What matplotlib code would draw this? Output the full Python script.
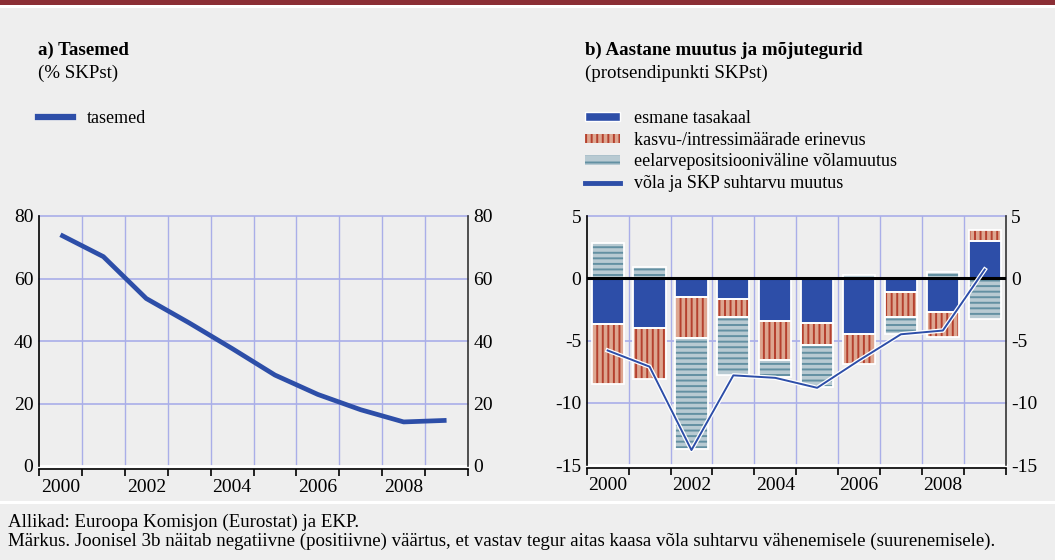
import numpy as np
import matplotlib
matplotlib.use("Agg")
import matplotlib.pyplot as plt
from matplotlib.patches import Patch, Rectangle
from matplotlib.lines import Line2D
import matplotlib.patheffects as pe

# ---------------- data ----------------
years = [2000, 2001, 2002, 2003, 2004, 2005, 2006, 2007, 2008, 2009]
year_labels = ["2000", "2002", "2004", "2006", "2008"]
levels = [74.0, 67.0, 53.6, 45.8, 37.6, 29.1, 22.9, 18.0, 14.1, 14.6]
primary_balance = [-3.7, -4.0, -1.5, -1.7, -3.4, -3.6, -4.5, -1.1, -2.7, 3.0]
growth_interest = [-4.8, -4.1, -3.3, -1.4, -3.2, -1.8, -2.4, -2.0, -2.0, 0.9]
deficit_debt = [2.8, 0.9, -8.9, -4.7, -1.3, -3.3, 0.3, -1.4, 0.5, -3.3]
ratio_change = [-5.8, -7.1, -13.8, -7.8, -8.0, -8.8, -6.6, -4.5, -4.2, 0.7]

left_yticks = [0, 20, 40, 60, 80]
right_yticks = [-15, -10, -5, 0, 5]

title_a = "a) Tasemed"
sub_a = "(% SKPst)"
title_b = "b) Aastane muutus ja mõjutegurid"
sub_b = "(protsendipunkti SKPst)"
leg_a = ["tasemed"]
leg_b = ["esmane tasakaal", "kasvu-/intressimäärade erinevus",
         "eelarvepositsiooniväline võlamuutus", "võla ja SKP suhtarvu muutus"]
foot1 = "Allikad: Euroopa Komisjon (Eurostat) ja EKP."
foot2 = ("Märkus. Joonisel 3b näitab negatiivne (positiivne) väärtus, et vastav tegur "
         "aitas kaasa võla suhtarvu vähenemisele (suurenemisele).")

# ---------------- style ----------------
BG = "#EEEEEE"
BLUE = "#2D4EA8"
RED_FILL = "#DDA690"
RED_HATCH = "#B5402E"
GREY_FILL = "#B8CAD2"
GREY_HATCH = "#6390A2"
GRID = "#A9AEE8"
W, H = 1055, 560

plt.rcParams["font.family"] = ["Liberation Serif", "DejaVu Serif"]
plt.rcParams["hatch.linewidth"] = 1.4
plt.rcParams["axes.unicode_minus"] = False

fig = plt.figure(figsize=(W / 100, H / 100), dpi=100, facecolor=BG)

# decorative band on top and separator above footer
fig.add_artist(Rectangle((0, 1 - 5 / H), 1, 5 / H, transform=fig.transFigure,
                         facecolor="#8B2E35", edgecolor="none"))
fig.add_artist(Rectangle((0, 1 - 7.7 / H), 1, 2.7 / H, transform=fig.transFigure,
                         facecolor="white", edgecolor="none"))
fig.add_artist(Rectangle((0, 1 - 504 / H), 1, 3 / H, transform=fig.transFigure,
                         facecolor="white", edgecolor="none"))

x = np.arange(len(years))
TICK_FS = 14


def style_axes(ax, yticks):
    ax.set_facecolor(BG)
    ax.set_xlim(-0.5, len(years) - 0.5)
    ax.set_ylim(yticks[0], yticks[-1])
    ax.set_yticks(yticks)
    ax.set_xticks(x[::2])
    ax.set_xticklabels(year_labels)
    ax.set_xticks(np.arange(-0.5, len(years), 1.0), minor=True)
    ax.tick_params(axis="x", which="major", length=0, labelsize=TICK_FS, pad=7)
    ax.tick_params(axis="x", which="minor", length=5, width=1.2, color="black",
                   direction="out")
    ax.tick_params(axis="y", which="both", length=0, labelsize=TICK_FS, pad=4,
                   left=True, right=True, labelleft=True, labelright=True)
    ax.spines["top"].set_visible(False)
    ax.spines["left"].set_color("black")
    ax.spines["left"].set_linewidth(1.2)
    ax.spines["right"].set_color("#333333")
    ax.spines["right"].set_linewidth(1.2)
    ax.spines["bottom"].set_color("black")
    ax.spines["bottom"].set_linewidth(1.2)
    ax.spines["bottom"].set_position(("outward", 2))
    # grid
    for b in np.arange(0.5, len(years) - 1, 1.0):
        ax.axvline(b, color=GRID, lw=1, zorder=0)
    for t in yticks[1:]:
        ax.axhline(t, color=GRID, lw=1.2, zorder=0, clip_on=False)
    ax.axhline(yticks[0], color="white", lw=2, zorder=0.5, clip_on=False)


# ---------------- panel a ----------------
axa = fig.add_axes([39 / W, 1 - 466 / H, (468 - 39) / W, (466 - 216) / H])
style_axes(axa, left_yticks)
axa.plot(x, levels, color=BLUE, lw=3.4, solid_capstyle="butt", zorder=3)

# ---------------- panel b ----------------
axb = fig.add_axes([586.7 / W, 1 - 465 / H, (1005.7 - 586.7) / W, (465 - 216) / H])
style_axes(axb, right_yticks)

series = [(primary_balance, BLUE, BLUE, None),
          (growth_interest, RED_FILL, RED_HATCH, "|||"),
          (deficit_debt, GREY_FILL, GREY_HATCH, "---")]
pos_base = np.zeros(len(years))
neg_base = np.zeros(len(years))
bw = 0.77
for vals, fc, hc, hatch in series:
    v = np.array(vals)
    base = np.where(v >= 0, pos_base, neg_base)
    axb.bar(x, v, bottom=base, width=bw, facecolor=fc, edgecolor=hc,
            hatch=hatch, linewidth=0, zorder=2)
    axb.bar(x, v, bottom=base, width=bw, fill=False, edgecolor="white",
            linewidth=1.3, zorder=2.5)
    pos_base = pos_base + np.where(v >= 0, v, 0)
    neg_base = neg_base + np.where(v < 0, v, 0)

axb.axhline(0, color="black", lw=2.2, zorder=3)
axb.plot(x, ratio_change, color=BLUE, lw=1.4, zorder=4,
         path_effects=[pe.Stroke(linewidth=3.2, foreground="white"), pe.Normal()])

# ---------------- titles ----------------
fs_title = 13.6
fig.text(38 / W, 1 - 50 / H, title_a, fontsize=fs_title, fontweight="bold", va="center")
fig.text(38 / W, 1 - 73 / H, sub_a, fontsize=fs_title, va="center")
fig.text(585 / W, 1 - 50 / H, title_b, fontsize=fs_title, fontweight="bold", va="center")
fig.text(585 / W, 1 - 73 / H, sub_b, fontsize=fs_title, va="center")

# ---------------- legends ----------------
leg_kw = dict(frameon=False, fontsize=13, borderpad=0, borderaxespad=0,
              handlelength=1.95, handletextpad=0.75, labelspacing=0.26,
              loc="upper left")
la = fig.legend([Line2D([], [], color=BLUE, lw=4.5)], leg_a,
                bbox_to_anchor=(38 / W, 1 - 110 / H), **leg_kw)
hb = [Patch(facecolor=BLUE, edgecolor="white", linewidth=1),
      Patch(facecolor=RED_FILL, edgecolor=RED_HATCH, hatch="|||", linewidth=0),
      Patch(facecolor=GREY_FILL, edgecolor=GREY_HATCH, hatch="--", linewidth=0),
      Line2D([], [], color=BLUE, lw=3.5)]
lb = fig.legend(hb, leg_b, bbox_to_anchor=(585 / W, 1 - 110 / H),
                handleheight=0.42, **leg_kw)

# ---------------- footer ----------------
fig.text(8 / W, 1 - 522 / H, foot1, fontsize=13.6, va="center")
fig.text(8 / W, 1 - 541 / H, foot2, fontsize=13.6, va="center")

fig.savefig("out.png", dpi=100, facecolor=BG)
